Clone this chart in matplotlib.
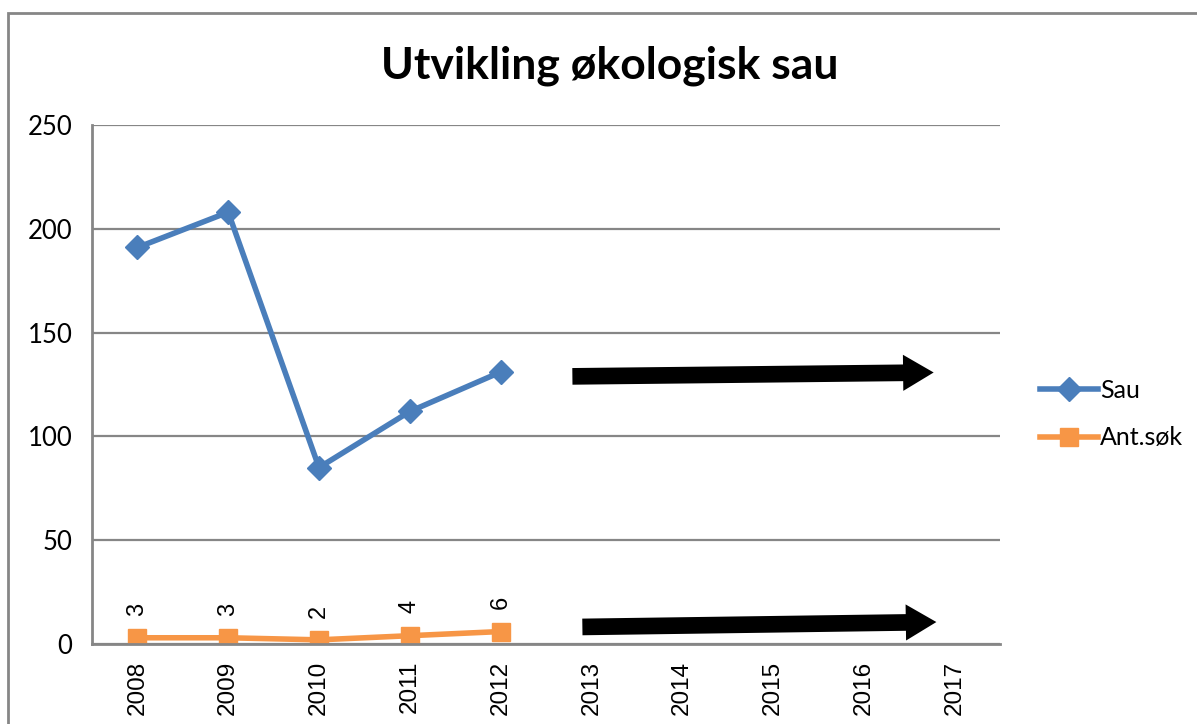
import matplotlib
matplotlib.use("Agg")
from matplotlib import pyplot as plt
from matplotlib.patches import Rectangle

# data
years = ["2008", "2009", "2010", "2011", "2012", "2013", "2014", "2015", "2016", "2017"]
sau = [191, 208, 85, 112, 131]
ant_sok = [3, 3, 2, 4, 6]
y_ticks = [0, 50, 100, 150, 200, 250]

blue = "#4A7EBB"
orange = "#F79646"
grey = "#868686"

fig = plt.figure(figsize=(11.97, 7.24), dpi=100)
fig.patch.set_facecolor("white")

# outer chart border (runs off the right and bottom of the image)
fig.add_artist(Rectangle((8 / 1197, -0.1), 1.2, 1.1 - 13 / 724, transform=fig.transFigure,
                         fill=False, edgecolor=grey, lw=2))

ax = fig.add_axes([92 / 1197, 1 - 644 / 724, 908 / 1197, 519 / 724])

x = list(range(len(sau)))
ax.plot(x, sau, color=blue, lw=4, marker="D", markersize=12, label="Sau", zorder=3)
ax.plot(x, ant_sok, color=orange, lw=4, marker="s", markersize=13, label="Ant.søk", zorder=3)

# data labels for Ant.søk
for xi, v in zip(x, ant_sok):
	ax.annotate(str(v), (xi, v), xytext=(0, 16), textcoords="offset points",
				rotation=90, ha="center", va="bottom", fontsize=17, family="Liberation Sans")

# hand drawn arrows
ax.annotate("", xy=(8.8, 130.8), xytext=(4.76, 128.9),
			arrowprops=dict(arrowstyle="simple,head_length=1.1,head_width=1.3,tail_width=0.6",
							mutation_scale=20, color="black", lw=0))
ax.annotate("", xy=(8.83, 10.6), xytext=(4.87, 8.2),
			arrowprops=dict(arrowstyle="simple,head_length=1.1,head_width=1.3,tail_width=0.6",
							mutation_scale=20, color="black", lw=0))

ax.set_xlim(-0.5, len(years) - 0.5)
ax.set_ylim(0, 250)
ax.set_xticks(range(len(years)))
ax.set_xticklabels(years, rotation=90, fontsize=17.5, family="Liberation Sans")
ax.set_yticks(y_ticks)
ax.set_yticklabels([str(t) for t in y_ticks], fontsize=18.5, family="Lato")
ax.tick_params(length=0, pad=14)
ax.tick_params(axis="x", pad=12)
ax.grid(axis="y", color=grey, lw=1.6)
ax.set_axisbelow(True)
for side in ["top", "right"]:
	ax.spines[side].set_visible(False)
for side in ["left", "bottom"]:
	ax.spines[side].set_color(grey)
	ax.spines[side].set_linewidth(2)
ax.spines["bottom"].set_zorder(4)

fig.text(610 / 1197, 1 - 66 / 724, "Utvikling økologisk sau", ha="center", va="center",
		 fontsize=32, fontweight="bold", family="Lato")

leg = fig.legend(loc="center left", bbox_to_anchor=(1030 / 1197, 1 - 414 / 724), frameon=False,
				 prop=dict(family="Lato", size=18), handlelength=2.3, handletextpad=0.1,
				 labelspacing=1.0, borderaxespad=0)

fig.savefig("out.png", dpi=100)
